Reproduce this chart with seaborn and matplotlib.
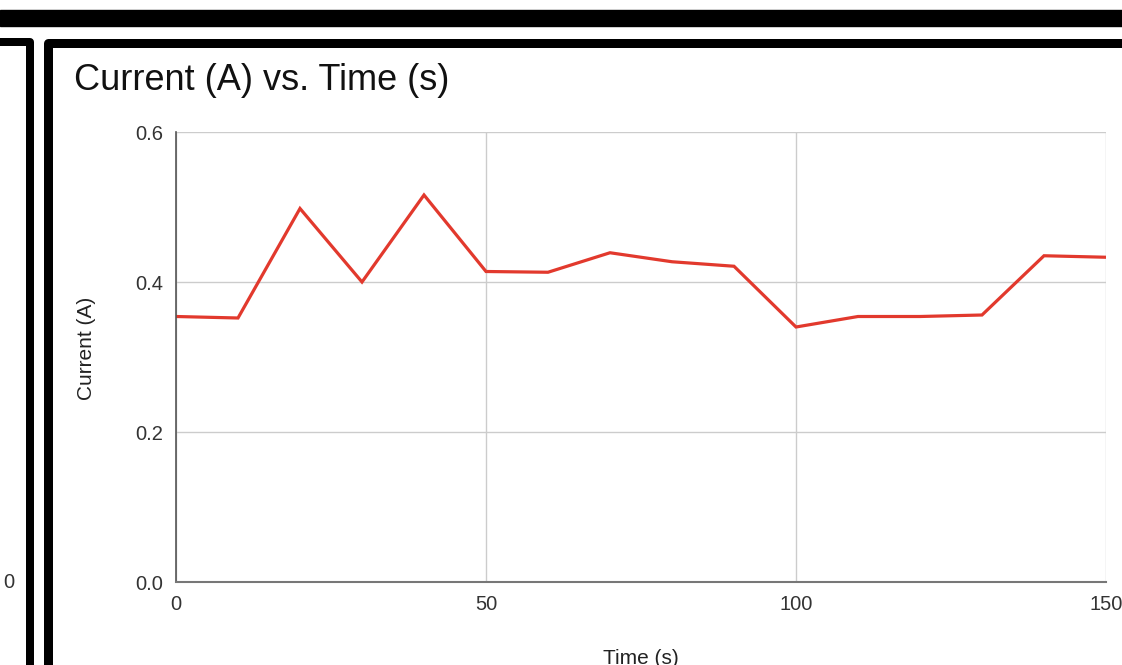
import matplotlib
matplotlib.use("Agg")
import matplotlib.pyplot as plt
import seaborn as sns
import pandas as pd
from matplotlib.lines import Line2D
from matplotlib.patches import Rectangle

# readings every 10 s
time_s = [0, 10, 20, 30, 40, 50, 60, 70, 80, 90, 100, 110, 120, 130, 140, 150]
current_a = [0.354, 0.352, 0.498, 0.400, 0.516, 0.414, 0.413, 0.439, 0.427, 0.421,
             0.340, 0.354, 0.354, 0.356, 0.435, 0.433]

x_ticks = [0, 50, 100, 150]
y_ticks = [0.0, 0.2, 0.4, 0.6]
y_tick_labels = ["0.0", "0.2", "0.4", "0.6"]

W, H = 1122, 665

sns.set_theme(style="whitegrid")
plt.rcParams["font.family"] = ["Liberation Sans", "DejaVu Sans"]

fig = plt.figure(figsize=(W / 100, H / 100), dpi=100)
fig.patch.set_facecolor("white")

# plot area in pixel coords of the screenshot
left, right, top, bottom = 176, 1106, 132, 582
ax = fig.add_axes([left / W, 1 - bottom / H, (right - left) / W, (bottom - top) / H])

df = pd.DataFrame({"Time (s)": time_s, "Current (A)": current_a})
sns.lineplot(data=df, x="Time (s)", y="Current (A)", ax=ax, color="#e2392d",
             linewidth=2.3, solid_joinstyle="miter")

ax.set_xlim(0, 150)
ax.set_ylim(0, 0.6)
ax.set_xticks(x_ticks)
ax.set_yticks(y_ticks)
ax.set_yticklabels(y_tick_labels)
ax.grid(True, color="#cccccc", linewidth=1.0)
ax.set_facecolor("white")
for side in ["top", "right"]:
    ax.spines[side].set_visible(False)
ax.spines["left"].set_color("#555555")
ax.spines["bottom"].set_color("#777777")
ax.spines["left"].set_linewidth(1.2)
ax.spines["bottom"].set_linewidth(1.5)
ax.tick_params(axis="both", length=0, labelsize=14.5, colors="#444444")
ax.tick_params(axis="y", pad=9)
ax.tick_params(axis="x", pad=9)
for lab in ax.get_xticklabels() + ax.get_yticklabels():
    lab.set_color("#333333")

ax.set_xlabel("Time (s)", fontsize=15, color="#222222")
ax.set_ylabel("Current (A)", fontsize=15, color="#222222")
ax.xaxis.set_label_coords(0.5, (bottom - 649) / (bottom - top))
ax.yaxis.set_label_coords((96 - left) / (right - left), 0.52)

fig.text(74 / W, 1 - 81 / H, "Current (A) vs. Time (s)", fontsize=26,
         color="#111111", ha="left", va="center")

# leftover tick label from the neighbouring chart
fig.text(3 / W, 1 - 583 / H, "0", fontsize=14.5, color="#333333", ha="left", va="center")


def px(xs, ys):
    return [x / W for x in xs], [1 - y / H for y in ys]


# dashboard frame borders
fig.add_artist(Rectangle((0, 1 - 26 / H), 1, 16 / H, transform=fig.transFigure,
                         color="black", zorder=5))
xs, ys = px([-5, 30, 30], [42, 42, H + 5])
fig.add_artist(Line2D(xs, ys, transform=fig.transFigure, color="black",
                      linewidth=8 * 0.72, solid_joinstyle="round", zorder=5))
xs, ys = px([W + 5, 47.5, 47.5], [42.5, 42.5, H + 5])
fig.add_artist(Line2D(xs, ys, transform=fig.transFigure, color="black",
                      linewidth=9 * 0.72, solid_joinstyle="round", zorder=5))

fig.savefig("out.png", dpi=100, facecolor="white")
